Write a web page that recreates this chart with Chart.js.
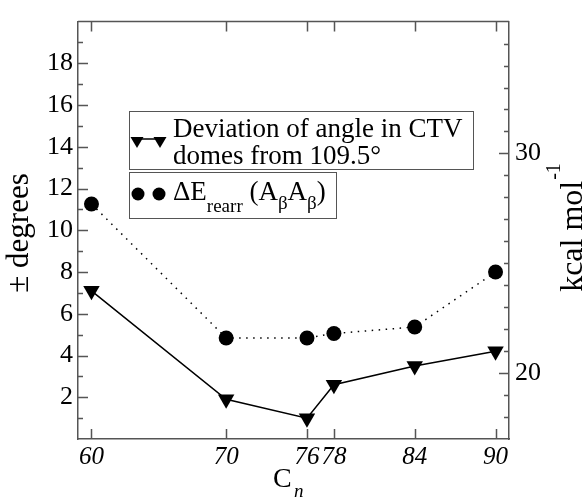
<html>
<head>
<meta charset="utf-8">
<style>
    body { margin: 0; background: #fff; }
</style>
</head>
<body>
    <div>
        <canvas id="chart_id" width="584" height="497"></canvas>
    </div>
    <script src="https://cdn.jsdelivr.net/npm/chart.js"></script>
    <script>
        // data
        const sizes = [60, 70, 76, 78, 84, 90];            // C_n
        const angleDev = [7.1, 1.9, 1.0, 2.6, 3.5, 4.2];    // ± degrees (left axis)
        const eRearr = [27.7, 21.6, 21.6, 21.8, 22.1, 24.6]; // kcal/mol (right axis)
        const leftTicks = [2, 4, 6, 8, 10, 12, 14, 16, 18];
        const rightTicks = [20, 30];

        const SERIF = '"Liberation Serif", "Times New Roman", serif';
        const AXIS = '#555';

        const chartCanvas = document.getElementById('chart_id');

        // inward tick marks, frame top line, legend boxes and axis titles
        const decorations = {
            id: 'decorations',
            afterDraw(chart) {
                const ctx = chart.ctx;
                const { left, right, top, bottom } = chart.chartArea;
                const x = chart.scales.x, y = chart.scales.y, y2 = chart.scales.y2;
                ctx.save();
                ctx.strokeStyle = AXIS;
                ctx.lineWidth = 1.5;
                ctx.beginPath();
                ctx.moveTo(left, top); ctx.lineTo(right, top);
                // left axis ticks
                for (let v = y.min + 1; v < y.max; v++) {
                    const py = Math.round(y.getPixelForValue(v)) + 0.5;
                    const len = v % 2 === 0 ? 10 : 5;
                    ctx.moveTo(left, py); ctx.lineTo(left + len, py);
                }
                // right axis ticks
                for (let v = y2.min + 1; v < y2.max; v++) {
                    const py = Math.round(y2.getPixelForValue(v)) + 0.5;
                    const len = v % 10 === 0 ? 10 : 5;
                    ctx.moveTo(right, py); ctx.lineTo(right - len, py);
                }
                // bottom and top ticks
                sizes.forEach(v => {
                    const px = Math.round(x.getPixelForValue(v)) + 0.5;
                    ctx.moveTo(px, bottom); ctx.lineTo(px, bottom - 10);
                    ctx.moveTo(px, top); ctx.lineTo(px, top + 10);
                });
                ctx.stroke();

                // legend
                ctx.strokeStyle = '#555';
                ctx.lineWidth = 1;
                ctx.strokeRect(129.5, 111.5, 344, 58);
                ctx.strokeRect(129.5, 172.5, 207, 46);

                ctx.fillStyle = '#000';
                ctx.strokeStyle = '#000';
                ctx.lineWidth = 1.5;
                ctx.beginPath();
                ctx.moveTo(137, 139); ctx.lineTo(160, 139);
                ctx.stroke();
                [137, 160].forEach(cx => {
                    ctx.beginPath();
                    ctx.moveTo(cx - 6.5, 137); ctx.lineTo(cx + 6.5, 137); ctx.lineTo(cx, 148);
                    ctx.closePath();
                    ctx.fill();
                });
                [138, 159].forEach(cx => {
                    ctx.beginPath();
                    ctx.arc(cx, 194, 6.5, 0, Math.PI * 2);
                    ctx.fill();
                });

                ctx.textAlign = 'left';
                ctx.textBaseline = 'alphabetic';
                ctx.font = '27px ' + SERIF;
                ctx.fillText('Deviation of angle in CTV', 173, 137);
                ctx.fillText('domes from 109.5°', 173, 164);

                let tx = 173;
                const part = (t, size, base) => {
                    ctx.font = size + 'px ' + SERIF;
                    ctx.fillText(t, tx, base);
                    tx += ctx.measureText(t).width;
                };
                part('ΔE', 27, 200);
                part('rearr', 19, 212);
                part(' (A', 27, 200);
                part('β', 19, 209);
                part('A', 27, 200);
                part('β', 19, 209);
                part(')', 27, 200);

                // left title
                ctx.save();
                ctx.translate(28, 233);
                ctx.rotate(-Math.PI / 2);
                ctx.textAlign = 'center';
                ctx.font = '31px ' + SERIF;
                ctx.fillText('± degrees', 0, 0);
                ctx.restore();

                // right title
                ctx.save();
                ctx.translate(582, 228);
                ctx.rotate(-Math.PI / 2);
                ctx.font = '32px ' + SERIF;
                const main = 'kcal mol';
                const wMain = ctx.measureText(main).width;
                ctx.font = '20px ' + SERIF;
                const wSup = ctx.measureText('-1').width;
                const start = -(wMain + wSup) / 2;
                ctx.textAlign = 'left';
                ctx.font = '32px ' + SERIF;
                ctx.fillText(main, start, 0);
                ctx.font = '20px ' + SERIF;
                ctx.fillText('-1', start + wMain + 1, -22);
                ctx.restore();

                // bottom title
                ctx.font = '28px ' + SERIF;
                ctx.fillText('C', 273, 487);
                ctx.font = 'italic 19px ' + SERIF;
                ctx.fillText('n', 294, 497);
                ctx.restore();
            }
        };

        new Chart(chartCanvas, {
            type: 'line',
            data: {
                datasets: [{
                    label: 'Deviation of angle in CTV domes from 109.5°',
                    data: sizes.map((s, i) => ({ x: s, y: angleDev[i] })),
                    yAxisID: 'y',
                    borderColor: '#000',
                    backgroundColor: '#000',
                    borderWidth: 1.5,
                    pointStyle: 'triangle',
                    rotation: 180,
                    pointRadius: 9.5,
                    pointBorderWidth: 0,
                    tension: 0
                }, {
                    label: 'ΔE rearr (AβAβ)',
                    data: sizes.map((s, i) => ({ x: s, y: eRearr[i] })),
                    yAxisID: 'y2',
                    borderColor: '#000',
                    backgroundColor: '#000',
                    borderWidth: 1.5,
                    borderDash: [1.5, 5.5],
                    pointStyle: 'circle',
                    pointRadius: 7.5,
                    pointBorderWidth: 0,
                    tension: 0
                }]
            },
            options: {
                responsive: false,
                animation: false,
                layout: { padding: { top: 16, left: 0, right: 0, bottom: 0 } },
                plugins: {
                    legend: { display: false },
                    tooltip: { enabled: false }
                },
                scales: {
                    x: {
                        type: 'linear',
                        position: 'bottom',
                        min: 59,
                        max: 91,
                        afterBuildTicks: axis => { axis.ticks = sizes.map(v => ({ value: v })); },
                        afterFit: axis => { axis.height = 58; },
                        ticks: {
                            autoSkip: false,
                            maxRotation: 0,
                            padding: 3,
                            color: '#000',
                            font: { family: SERIF, size: 25, style: 'italic' }
                        },
                        grid: { display: false, drawTicks: false },
                        border: { display: true, color: AXIS, width: 1.5 }
                    },
                    y: {
                        type: 'linear',
                        position: 'left',
                        min: 0,
                        max: 20,
                        afterBuildTicks: axis => { axis.ticks = leftTicks.map(v => ({ value: v })); },
                        afterFit: axis => { axis.width = 78; },
                        ticks: {
                            padding: 5,
                            color: '#000',
                            font: { family: SERIF, size: 26 }
                        },
                        grid: { display: false, drawTicks: false },
                        border: { display: true, color: AXIS, width: 1.5 }
                    },
                    y2: {
                        type: 'linear',
                        position: 'right',
                        min: 17,
                        max: 36,
                        afterBuildTicks: axis => { axis.ticks = rightTicks.map(v => ({ value: v })); },
                        afterFit: axis => { axis.width = 75; },
                        ticks: {
                            padding: 6,
                            color: '#000',
                            font: { family: SERIF, size: 26 }
                        },
                        grid: { display: false, drawTicks: false },
                        border: { display: true, color: AXIS, width: 1.5 }
                    }
                }
            },
            plugins: [decorations]
        });
    </script>
</body>
</html>
